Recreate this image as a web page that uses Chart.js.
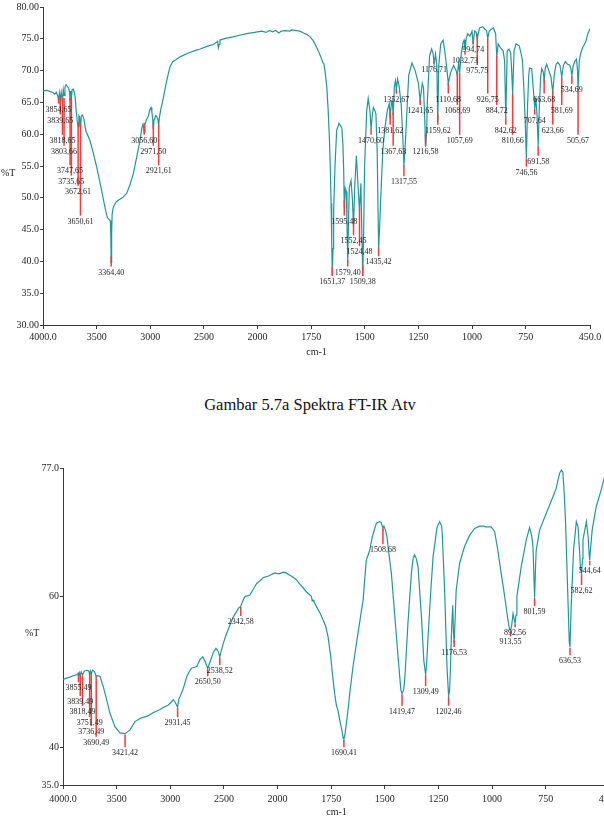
<!DOCTYPE html>
<html><head><meta charset="utf-8">
<script src="https://cdn.jsdelivr.net/npm/chart.js@4.4.0/dist/chart.umd.min.js"></script>
<style>
html,body{margin:0;padding:0;width:604px;height:827px;overflow:hidden;background:#fff;}
#c1wrap{position:absolute;left:0;top:0;width:604px;height:365px;}
#c2wrap{position:absolute;left:0;top:440px;width:640px;height:387px;}
#cap{position:absolute;left:0;width:620px;top:395px;text-align:center;font:16.5px 'Liberation Serif',serif;color:#111;white-space:nowrap;}
</style></head><body>
<div id="c1wrap"><canvas id="c1"></canvas></div>
<div id="cap">Gambar 5.7a Spektra FT-IR Atv</div>
<div id="c2wrap"><canvas id="c2"></canvas></div>
<script>
// ---------- DATA: spectrum 1 (Atv) ----------
const wn1 = [4000,3960,3935,3910,3890,3875,3862,3854.65,3847,3839.65,3830,3818.65,3811,3803.66,3795,3785,3772,3760,3752,3747.65,3742,3735.65,3728,3718,3708,3700,3690,3680,3672.61,3665,3658,3650.61,3642,3632,3620,3600,3562,3530,3499,3470,3441,3420,3400,3385,3372,3368,3364.4,3360,3355,3345,3320,3298,3260,3220,3190,3158,3125,3096,3080,3070,3062,3056.6,3050,3035,3018,3005,2993,2985,2977,2971.5,2965,2950,2940,2930,2921.61,2915,2903,2878,2853,2832,2816,2790,2760,2730,2692,2640,2590,2536,2470,2412,2385,2372,2365,2358,2350,2330,2290,2228,2160,2100,2070,2030,2000,1980,1960,1945,1930,1915,1900,1890,1870,1850,1840,1820,1802,1785,1771,1755,1740,1728,1717,1708,1701,1696,1690,1684,1677,1671,1665,1660,1657,1654,1651.37,1648,1645,1639,1631,1620,1607,1602,1598,1595.48,1591,1586,1583,1579.4,1576,1572,1564,1558,1552.45,1547,1539,1531,1524.48,1518,1514,1509.38,1505,1501,1491,1484,1476,1470.6,1465,1460,1454,1448,1442,1435.42,1430,1426,1416,1406,1395,1386,1381.62,1376,1372,1367.63,1362,1357,1352.67,1347,1340,1330,1322,1317.55,1311,1305,1295,1280,1265,1250,1241.65,1232,1226,1220,1216.58,1212,1208,1198,1188,1181,1176.71,1170,1164,1159.62,1155,1146,1135,1127,1118,1110.68,1100,1086,1074,1068.69,1062,1057.69,1050,1042,1037,1032.73,1026,1020,1010,1000,994.74,988,980,975.75,965,950,940,932,926.75,920,910,900,890,884.72,878,868,855,848,842.62,836,828,820,815,810.66,804,795,780,770,765,758,752,746.56,741,736,732,722,714,707.64,703,697,691.58,686,680,675,668,663.68,658,652,642,632,623.66,616,608,600,590,581.69,574,565,555,545,539,534.69,528,520,513,508,505.67,500,495,485,470,460,450];
const t1 = [66.8,66.9,66.7,66.6,66.3,66.6,66.0,65.4,66.5,65.3,66.6,65.2,67.0,66.1,67.4,67.8,67.5,67.2,66.6,65.3,66.8,65.6,67.0,67.1,66.6,65.8,63.5,62.0,61.2,62.9,62.7,61.0,62.9,63.0,62.5,60.5,59.0,57.0,54.8,52.5,50.1,48.3,46.9,46.6,46.4,44.0,39.8,44.5,47.5,48.5,49.3,49.6,50.0,50.7,52.0,53.8,56.5,59.0,60.8,61.5,61.2,60.3,61.5,62.3,62.8,63.8,64.2,63.5,62.3,60.8,62.2,62.9,62.8,62.4,61.3,62.6,63.8,65.7,67.9,69.5,70.6,71.4,71.7,72.1,72.4,72.8,73.1,73.4,73.8,74.1,74.4,74.6,73.6,74.1,74.8,74.9,75.1,75.3,75.6,75.8,75.9,76.0,76.1,76.2,76.0,76.3,76.1,76.3,75.9,76.2,76.3,76.2,76.4,76.3,76.2,75.9,75.7,75.3,74.7,73.9,73.1,72.4,71.8,71.3,71.0,69.6,67.4,64.0,59.5,54.0,49.1,43.0,37.8,42.0,48.0,54.8,60.6,61.7,61.0,58.5,54.0,48.5,51.5,51.0,46.0,39.9,46.0,51.6,52.7,50.0,45.5,51.6,56.6,51.6,48.0,52.3,45.0,37.8,45.0,54.8,63.7,65.6,63.7,60.8,63.0,64.2,63.8,63.2,57.0,42.0,46.0,49.6,57.4,61.0,63.7,64.8,62.5,65.0,65.3,63.0,67.5,68.4,67.0,68.7,67.6,64.6,59.0,55.0,58.5,62.6,69.3,71.2,70.0,68.0,65.3,68.0,67.3,62.0,58.0,60.0,65.3,72.3,73.4,72.6,71.0,72.6,70.8,62.0,70.8,74.2,74.8,73.1,70.5,68.0,69.7,70.8,70.0,69.3,71.3,69.7,72.7,74.4,74.8,73.3,75.2,75.8,75.4,76.2,74.2,76.2,76.0,75.0,76.7,76.9,76.5,76.3,75.0,76.2,76.5,76.7,75.8,72.2,74.2,73.6,73.1,71.5,62.5,73.1,73.4,72.8,70.0,66.3,73.1,74.2,73.9,72.5,71.6,67.0,62.0,56.2,64.5,69.0,70.4,70.3,67.0,64.0,65.8,63.0,58.2,64.5,69.0,70.3,69.8,68.5,70.5,71.0,70.0,69.0,66.6,69.5,71.0,71.3,70.8,69.0,70.8,71.4,71.0,70.9,70.3,69.2,70.8,71.5,71.8,70.0,67.0,71.5,72.5,73.6,74.5,75.8,76.6];
const peakWn1  = [3854.65,3839.65,3818.65,3803.66,3747.65,3735.65,3672.61,3650.61,3364.40,3056.60,2971.50,2921.61,1651.37,1579.40,1509.38,1595.48,1552.45,1524.48,1435.42,1470.60,1381.62,1367.63,1352.67,1317.55,1241.65,1216.58,1176.71,1159.62,1110.68,1068.69,1057.69,1032.73,994.74,975.75,926.75,884.72,842.62,810.66,746.56,691.58,707.64,663.68,623.66,581.69,534.69,505.67];
const peakLabel1 = ["3854,65","3839,65","3818,65","3803,66","3747,65","3735,65","3672,61","3650,61","3364,40","3056,60","2971,50","2921,61","1651,37","1579,40","1509,38","1595,48","1552,45","1524,48","1435,42","1470,60","1381,62","1367,63","1352,67","1317,55","1241,65","1216,58","1176,71","1159,62","1110,68","1068,69","1057,69","1032,73","994,74","975,75","926,75","884,72","842,62","810,66","746,56","691,58","707,64","663,68","623,66","581,69","534,69","505,67"];
const peakTop1 = [65.7,65.7,65.7,65.7,65.7,65.7,61.8,61.8,40.8,61.8,61.8,61.5,39.1,40.2,39.4,49.6,46.9,48.3,42.2,60.9,63.4,63.4,67.1,55.1,65.6,60.1,71.5,63.2,68.1,69.7,69.7,73.1,74.7,75.8,75.0,72.3,62.6,66.4,56.2,58.2,64.0,68.7,66.8,68.9,69.2,67.1];
const peakBot1 = [64.8,63.1,59.9,58.2,55.1,53.5,51.9,47.2,39.2,59.9,58.2,55.1,37.7,39.2,37.7,47.2,44.1,42.4,40.8,59.9,61.5,58.2,66.4,53.4,64.6,58.2,71.1,61.5,66.4,64.6,59.9,72.5,74.2,70.9,66.4,64.6,61.5,59.9,54.9,56.6,63.1,66.4,61.5,64.6,67.9,59.9];
const y1TickVals = [30,35,40,45,50,55,60,65,70,75,80];
const y1TickLabels = ["30.00","35.0","40.0","45.0","50.0","55.0","60.0","65.0","70.0","75.0","80.00"];

// ---------- DATA: spectrum 2 ----------
const wn2 = [4000,3960,3935,3900,3872,3860,3855.49,3848,3839.49,3830,3818.49,3800,3775,3760,3751.49,3745,3736.49,3725,3705,3690.49,3680,3655,3624,3593,3562,3515,3469,3421.42,3375,3329,3282,3250,3220,3190,3158,3125,3096,3060,3018,2990,2972,2955,2945,2931.45,2920,2909,2878,2847,2820,2800,2775,2753,2723,2697,2676,2660,2650.5,2640,2629,2598,2574,2553,2538.52,2520,2505,2474,2440,2412,2385,2365,2342.58,2320,2303,2270,2256,2240,2215,2194,2160,2132,2100,2070,2040,2023,2000,1989,1974,1960,1943,1925,1912,1896,1880,1865,1850,1842,1838,1834,1830,1818,1800,1788,1775,1764,1752,1741,1733,1725,1718,1710,1700,1694,1690.41,1685,1679,1671,1663,1648,1625,1601,1590,1586,1570,1558,1539,1524,1517,1511,1508.68,1504,1497,1490,1480,1469,1454,1438,1425,1419.47,1412,1407,1392,1376,1368,1361,1353,1345,1329,1318,1309.49,1305,1299,1287,1275,1256,1244,1235,1232,1221,1210,1202.46,1198,1194,1188,1183,1180,1176.53,1172,1167,1151,1128,1104,1081,1058,1040,1027,1004,988,973,957,941,926,918,913.55,909,902,897,892.56,888,884,864,840,825,815,809,804,801.59,797,794,778,747,716,701,685,677,670,663,657,646,640,636.53,631,620,607,599,592,587,582.62,578,576,560,552,547,544.64,540,533,514,491,480,465,450];
const t2 = [49.0,49.2,49.3,49.5,49.6,49.8,49.4,49.9,49.5,50.0,49.6,50.1,50.2,50.1,49.7,50.1,49.7,50.2,50.0,49.4,49.5,49.4,48.0,46.3,44.5,42.7,41.9,41.8,42.3,43.4,43.8,44.0,44.1,44.3,44.6,44.8,45.0,45.3,45.6,46.0,46.3,46.0,45.7,45.3,46.4,46.7,47.8,49.3,50.1,50.5,50.6,50.7,51.6,52.0,51.4,50.8,50.5,50.9,51.3,52.6,53.1,52.7,52.0,53.0,53.8,55.1,56.3,57.3,57.9,58.4,58.7,59.5,60.0,60.1,60.2,60.6,61.2,61.7,62.1,62.5,62.6,62.8,63.0,63.1,63.0,63.0,63.2,63.1,62.8,62.5,62.2,61.6,61.1,60.6,60.2,60.0,59.4,59.5,59.3,58.6,57.7,56.9,56.0,54.6,52.0,48.9,47.0,45.5,44.9,43.6,42.3,41.2,41.1,41.8,43.2,45.0,47.2,50.7,55.1,59.5,63.5,64.8,66.1,67.9,69.7,69.9,69.8,69.2,69.0,69.3,68.8,67.9,65.5,63.0,57.7,52.0,47.6,47.1,47.6,48.9,56.4,63.0,65.0,65.5,65.0,63.9,57.3,51.5,49.6,51.0,54.2,60.0,65.2,69.2,69.9,69.3,68.3,60.8,50.7,46.8,47.5,50.2,56.0,58.8,55.5,53.8,57.0,60.8,64.4,66.6,68.1,69.0,69.3,69.3,69.2,69.2,68.6,66.1,63.0,60.0,56.9,55.6,55.5,56.0,57.7,57.0,56.4,57.5,60.0,63.9,67.5,69.1,68.0,66.6,62.0,59.8,64.0,66.1,68.8,71.0,73.2,74.3,76.3,76.7,76.5,73.5,69.7,59.5,54.0,53.3,58.6,66.1,69.9,69.2,66.0,63.5,63.0,65.0,67.5,69.9,67.9,65.5,64.8,66.5,68.8,71.9,74.1,75.4,76.5,77.5];
const peakWn2 = [3855.49,3839.49,3818.49,3751.49,3736.49,3690.49,3421.42,2931.45,2650.50,2538.52,2342.58,1690.41,1508.68,1419.47,1309.49,1202.46,1176.53,913.55,892.56,801.59,636.53,582.62,544.64];
const peakLabel2 = ["3855,49","3839,49","3818,49","3751,49","3736,49","3690,49","3421,42","2931,45","2650,50","2538,52","2342,58","1690,41","1508,68","1419,47","1309,49","1202,46","1176,53","913,55","892,56","801,59","636,53","582,62","544,64"];
const peakTop2 = [49.6,49.6,49.6,49.8,49.8,49.4,41.7,45.2,50.4,51.9,58.6,41.0,69.0,47.0,49.5,46.7,54.2,55.4,56.3,59.8,53.2,62.9,64.7];
const peakBot2 = [48.6,46.8,45.5,44.0,42.8,41.4,40.0,44.0,49.4,50.9,57.4,40.0,66.9,45.5,48.1,45.5,53.3,54.7,55.9,58.7,52.2,61.5,64.1];
const y2TickVals = [35,40,60,77];
const y2TickLabels = ["35.0","40","60","77.0"];

// ---------- shared x ticks ----------
const xTickVals = [4000,3500,3000,2500,2000,1750,1500,1250,1000,750,450];
const xTickLabels = ["4000.0","3500","3000","2500","2000","1750","1500","1250","1000","750","450.0"];

// ---------- FT-IR wavenumber scale (half scale above 2000 cm-1) ----------
const BaseLinear = Chart.LinearScale || Chart.registry.getScale('linear');
class WavenumberScale extends BaseLinear {
  waveU(v) { return v >= 2000 ? (4000 - v) / 2 : 1000 + (2000 - v); }
  getPixelForValue(v) {
    if (v === null || v === undefined || isNaN(v)) return NaN;
    const u0 = this.waveU(this.max), u1 = this.waveU(this.min);
    return this.getPixelForDecimal((this.waveU(v) - u0) / (u1 - u0));
  }
  getValueForPixel(p) {
    const u0 = this.waveU(this.max), u1 = this.waveU(this.min);
    const u = u0 + this.getDecimalForPixel(p) * (u1 - u0);
    return u <= 1000 ? 4000 - 2 * u : 2000 - (u - 1000);
  }
}
WavenumberScale.id = 'wavenumber';
WavenumberScale.defaults = BaseLinear.defaults;
Chart.register(WavenumberScale);

const TEAL = '#21979a';
const RED = '#f03c3c';
const AXIS = '#3a3a3a';
const TXT = '#1e1e1e';
const SERIF = "'Liberation Serif', 'Times New Roman', serif";

function annotPlugin(wns, labels, tops, bots, yTitleDx, yTitleDy) {
  return {
    id: 'annot',
    afterDatasetsDraw(chart) {
      const {ctx, chartArea: a, scales: {x, y}} = chart;
      ctx.save();
      ctx.strokeStyle = RED; ctx.lineWidth = 1.5;
      wns.forEach((w, i) => {
        const px = x.getPixelForValue(w);
        ctx.beginPath();
        ctx.moveTo(px, y.getPixelForValue(tops[i]));
        ctx.lineTo(px, y.getPixelForValue(bots[i]));
        ctx.stroke();
      });
      ctx.fillStyle = TXT;
      ctx.font = "8px " + SERIF;
      ctx.textAlign = 'center'; ctx.textBaseline = 'middle';
      wns.forEach((w, i) => {
        ctx.fillText(labels[i], x.getPixelForValue(w), y.getPixelForValue(bots[i]) + 6);
      });
      ctx.font = "10px " + SERIF;
      ctx.fillText('cm-1', (a.left + a.right) / 2, a.bottom + 27);
      ctx.textAlign = 'left';
      ctx.fillText('%T', a.left + yTitleDx, a.top + yTitleDy);
      ctx.restore();
    }
  };
}

function makeChart(id, wn, t, yVals, yLabels, yMin, yMax, yWidth, xHeight, pad, plugin, tickPadX) {
  return new Chart(document.getElementById(id), {
    type: 'line',
    data: { datasets: [{ data: wn.map((w, i) => ({x: w, y: t[i]})), borderColor: TEAL, borderWidth: 1.2, pointRadius: 0, tension: 0, fill: false }] },
    options: {
      responsive: true, maintainAspectRatio: false, animation: false,
      layout: { padding: pad },
      plugins: { legend: {display: false}, tooltip: {enabled: false}, title: {display: false} },
      scales: {
        x: {
          type: 'wavenumber', min: 450, max: 4000,
          afterBuildTicks: s => { s.ticks = xTickVals.map(v => ({value: v})); },
          afterFit: s => { s.height = xHeight; },
          ticks: { autoSkip: false, maxRotation: 0, padding: tickPadX, color: TXT, font: {family: SERIF, size: 10},
                   callback: v => xTickLabels[xTickVals.indexOf(v)] },
          grid: { drawOnChartArea: false, drawTicks: true, tickLength: 4, color: AXIS },
          border: { display: true, color: AXIS, width: 1 }
        },
        y: {
          type: 'linear', min: yMin, max: yMax,
          afterBuildTicks: s => { s.ticks = yVals.map(v => ({value: v})); },
          afterFit: s => { s.width = yWidth; },
          ticks: { autoSkip: false, padding: 1, color: TXT, font: {family: SERIF, size: 10},
                   callback: v => yLabels[yVals.indexOf(v)] },
          grid: { drawOnChartArea: false, drawTicks: true, tickLength: 3, color: AXIS },
          border: { display: true, color: AXIS, width: 1 }
        }
      }
    },
    plugins: [plugin]
  });
}

makeChart('c1', wn1, t1, y1TickVals, y1TickLabels, 30, 80, 43, 40, {top: 6, right: 14, left: 0, bottom: 0},
  annotPlugin(peakWn1, peakLabel1, peakTop1, peakBot1, -42, 166), 2);
makeChart('c2', wn2, t2, y2TickVals, y2TickLabels, 35, 77, 63, 42, {top: 28, right: 30, left: 0, bottom: 0},
  annotPlugin(peakWn2, peakLabel2, peakTop2, peakBot2, -38, 165), 4);
</script></body></html>
